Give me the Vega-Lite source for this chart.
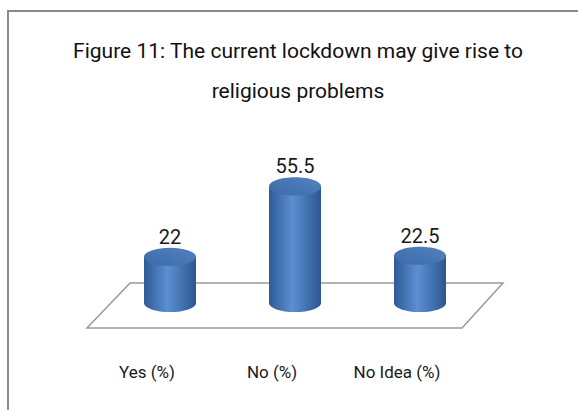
{
  "$schema": "https://vega.github.io/schema/vega-lite/v6.json",
  "autosize": "none",
  "padding": {"left": 8, "top": 11, "right": 0, "bottom": 0},
  "width": 580,
  "height": 410,
  "background": "white",
  "title": {
    "text": ["Figure 11: The current lockdown may give rise to", "religious problems"],
    "anchor": "middle",
    "baseline": "top",
    "offset": -91,
    "lineHeight": 40,
    "fontSize": 21,
    "fontWeight": "normal",
    "font": "Roboto",
    "color": "#111111"
  },
  "config": {
    "view": {"stroke": "#8a8a8a", "strokeWidth": 2},
    "font": "Roboto"
  },
  "data": {
    "values": [
      {"category": "Yes (%)", "value": 22},
      {"category": "No  (%)", "value": 55.5},
      {"category": "No Idea (%)", "value": 22.5}
    ]
  },
  "encoding": {
    "x": {
      "field": "category",
      "type": "nominal",
      "sort": null,
      "scale": {"domain": ["Yes (%)", "No  (%)", "No Idea (%)"], "range": [99.5, 474.5], "paddingInner": 0, "paddingOuter": 0},
      "axis": {
        "title": null,
        "orient": "bottom",
        "offset": -49,
        "domain": false,
        "ticks": false,
        "tickSize": 0,
        "labelPadding": 0,
        "labelBaseline": "middle",
        "labelOffset": -23,
        "labelAngle": 0,
        "labelFontSize": 17,
        "labelColor": "#1a1a1a",
        "labelFont": "Roboto",
        "grid": false
      }
    },
    "y": {
      "field": "value",
      "type": "quantitative",
      "scale": {"domain": [0, 100], "range": [292, 82]},
      "axis": null
    }
  },
  "layer": [
    {
      "transform": [{"filter": "datum.category === 'No  (%)'"}],
      "mark": {
        "type": "point",
        "shape": "M -0.793 -0.096 L 1 -0.096 L 0.803 0.12 L -1 0.12 Z",
        "size": 173056,
        "filled": false,
        "stroke": "#9a9a9a",
        "strokeWidth": 1.5,
        "opacity": 1
      },
      "encoding": {"y": {"datum": 0}}
    },
    {
      "mark": {
        "type": "point",
        "shape": "M -1 0 A 1 0.35 0 1 0 1 0 A 1 0.35 0 1 0 -1 0 Z",
        "size": 2704,
        "filled": true,
        "opacity": 1,
        "strokeWidth": 0,
        "fill": {"gradient": "linear", "x1": 0, "x2": 1, "y1": 0, "y2": 0,
          "stops": [{"offset": 0, "color": "#2f5b98"}, {"offset": 0.45, "color": "#5b8fd2"}, {"offset": 1, "color": "#2c5690"}]}
      },
      "encoding": {"y": {"datum": 0}}
    },
    {
      "mark": {
        "type": "bar",
        "width": 52,
        "fill": {"gradient": "linear", "x1": 0, "x2": 1, "y1": 0, "y2": 0,
          "stops": [{"offset": 0, "color": "#2f5b98"}, {"offset": 0.45, "color": "#5b8fd2"}, {"offset": 1, "color": "#2c5690"}]}
      },
      "encoding": {"y2": {"datum": 0}}
    },
    {
      "mark": {
        "type": "point",
        "shape": "M -1 0 A 1 0.35 0 1 0 1 0 A 1 0.35 0 1 0 -1 0 Z",
        "size": 2704,
        "filled": true,
        "opacity": 1,
        "strokeWidth": 0,
        "fill": {"gradient": "linear", "x1": 0, "x2": 1, "y1": 1, "y2": 0,
          "stops": [{"offset": 0, "color": "#3d6aa8"}, {"offset": 1, "color": "#5282c0"}]}
      }
    },
    {
      "mark": {
        "type": "text",
        "dy": -19,
        "baseline": "middle",
        "fontSize": 20,
        "color": "#1a1a1a"
      },
      "encoding": {"text": {"field": "value", "type": "quantitative"}}
    }
  ]
}
